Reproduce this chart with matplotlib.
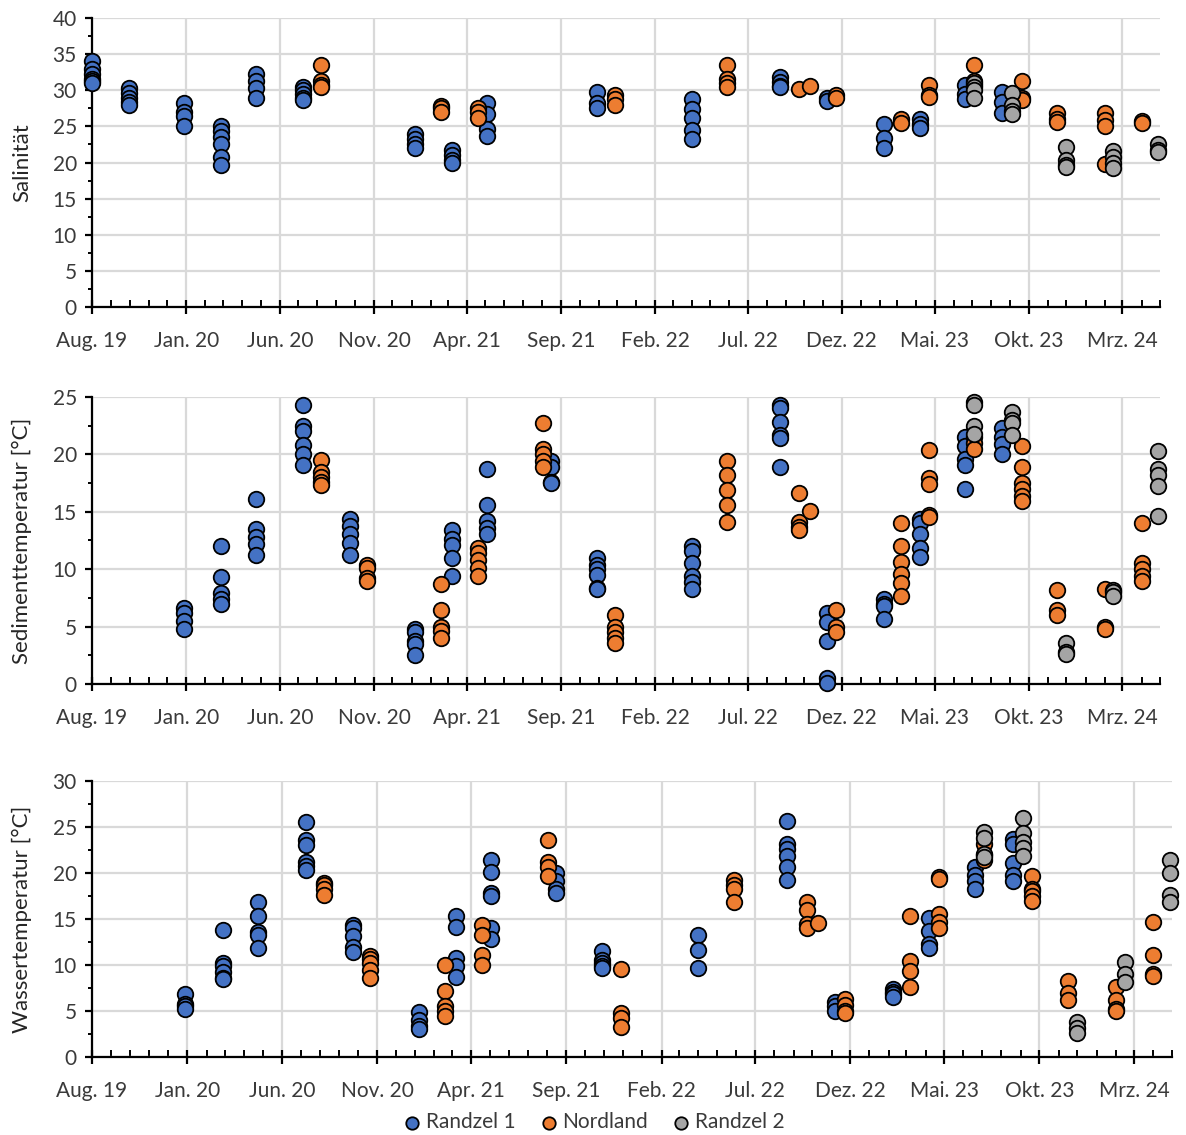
import matplotlib
matplotlib.use("Agg")
import matplotlib.pyplot as plt
import pandas as pd

plt.rcParams.update({
    "font.family": ["Lato", "DejaVu Sans"],
    "font.size": 15,
})

COLORS = {"Randzel 1": "#4472C4", "Nordland": "#ED7D31", "Randzel 2": "#A5A5A5"}

# x-axis
x_start, x_end = "2019-08-01", "2024-05-01"
tick_labels = ["Aug. 19", "Jan. 20", "Jun. 20", "Nov. 20", "Apr. 21", "Sep. 21",
               "Feb. 22", "Jul. 22", "Dez. 22", "Mai. 23", "Okt. 23", "Mrz. 24"]

# ---- Salinität ----
sal_r1_dates = ["2019-08-01", "2019-09-30", "2019-12-28", "2020-02-27", "2020-04-23",
                "2020-07-09", "2021-01-07", "2021-03-07", "2021-05-03", "2021-10-29",
                "2022-04-01", "2022-08-22", "2022-11-07", "2023-02-07", "2023-04-07",
                "2023-06-19", "2023-08-19"]
sal_r1_vals = [[34.1, 33.0, 32.3, 31.6, 31.3, 31.0], [30.3, 29.6, 29.0, 28.4, 28.0],
               [28.3, 27.0, 26.5, 25.0], [25.1, 24.3, 23.6, 22.6, 20.7, 19.6],
               [32.3, 31.3, 30.3, 29.0], [30.5, 30.0, 29.5, 29.0, 28.7],
               [23.9, 23.2, 22.5, 22.0], [21.8, 21.0, 20.4, 19.9],
               [28.2, 26.7, 24.6, 23.7], [29.8, 28.2, 27.5],
               [28.8, 27.4, 26.2, 24.5, 23.2], [31.8, 31.2, 30.6, 30.4],
               [29.0, 28.5], [25.4, 23.4, 22.0], [26.0, 25.4, 24.8],
               [30.8, 29.5, 28.8], [29.8, 28.4, 26.9]]
sal_nl_dates = ["2020-08-07", "2021-02-18", "2021-04-19", "2021-11-28", "2022-05-28",
                "2022-09-22", "2022-10-10", "2022-11-22", "2023-03-07", "2023-04-22",
                "2023-07-04", "2023-09-19", "2023-11-16", "2024-02-01", "2024-04-01"]
sal_nl_vals = [[33.5, 31.3, 30.7, 30.5], [27.8, 27.5, 27.0], [27.6, 27.0, 26.2],
               [29.3, 28.8, 27.9], [33.5, 31.6, 31.0, 30.4], [30.2], [30.6],
               [29.3, 29.0], [26.0, 25.5], [30.8, 29.4, 29.1], [33.5, 31.3, 30.8],
               [31.3, 29.0, 28.7], [26.8, 26.0, 25.6], [26.8, 25.9, 25.0, 19.8],
               [25.8, 25.5]]
sal_r2_dates = ["2023-07-04", "2023-09-04", "2023-12-01", "2024-02-15", "2024-04-28"]
sal_r2_vals = [[31.0, 30.5, 30.0, 29.0], [29.6, 27.9, 27.2, 26.7],
               [22.2, 20.3, 19.7, 19.4], [21.6, 20.8, 19.9, 19.3], [22.5, 21.8, 21.5]]

# ---- Sedimenttemperatur ----
sed_r1_dates = ["2019-12-28", "2020-02-27", "2020-04-23", "2020-07-09", "2020-09-23",
                "2021-01-07", "2021-03-07", "2021-05-03", "2021-08-16", "2021-10-29",
                "2022-04-01", "2022-08-22", "2022-11-07", "2023-02-07", "2023-04-07",
                "2023-06-19", "2023-08-19"]
sed_r1_vals = [[6.6, 6.2, 5.5, 4.8], [12.0, 9.3, 7.9, 7.4, 7.0],
               [16.1, 13.5, 12.8, 12.2, 11.2], [24.3, 22.5, 22.0, 20.8, 20.0, 19.1],
               [14.4, 13.8, 13.1, 12.3, 11.2], [4.8, 4.5, 3.7, 3.5, 2.5],
               [13.4, 12.6, 12.1, 11.0, 9.4], [18.7, 15.6, 14.2, 13.6, 13.1],
               [19.4, 18.9, 17.6, 17.5], [11.0, 10.4, 10.0, 9.5, 8.4, 8.3],
               [12.0, 11.6, 10.5, 9.4, 8.9, 8.3], [24.3, 24.0, 22.8, 21.7, 21.4, 18.9],
               [6.2, 5.4, 3.7, 0.5, 0.1], [7.4, 7.0, 6.8, 5.7],
               [14.4, 14.0, 13.1, 11.8, 11.1], [21.5, 20.7, 19.6, 19.1, 17.0],
               [22.3, 21.5, 20.9, 20.0]]
sed_nl_dates = ["2020-08-07", "2020-10-20", "2021-02-18", "2021-04-19", "2021-08-03",
                "2021-11-28", "2022-05-28", "2022-09-22", "2022-10-10", "2022-11-22",
                "2023-03-07", "2023-04-22", "2023-07-04", "2023-09-19", "2023-11-16",
                "2024-02-01", "2024-04-01"]
sed_nl_vals = [[19.5, 18.5, 18.0, 17.6, 17.3], [10.4, 10.1, 9.2, 9.0],
               [8.7, 6.4, 5.0, 4.6, 4.0], [11.8, 11.4, 10.8, 10.1, 9.4],
               [22.7, 20.5, 20.0, 19.4, 18.9], [6.0, 5.0, 4.5, 4.0, 3.6],
               [19.4, 18.2, 16.9, 15.6, 14.1], [16.6, 14.1, 13.7, 13.4], [15.1],
               [6.4, 5.0, 4.5], [14.0, 12.0, 10.6, 9.6, 8.8, 7.7],
               [20.4, 17.9, 17.4, 14.7, 14.5], [21.5, 21.0, 20.5],
               [20.7, 18.9, 17.5, 17.0, 16.4, 15.9], [8.2, 6.4, 6.0], [8.3, 5.0, 4.8],
               [14.0, 10.5, 10.0, 9.4, 9.0]]
sed_r2_dates = ["2023-07-04", "2023-09-04", "2023-12-01", "2024-02-15", "2024-04-28"]
sed_r2_vals = [[24.6, 24.3, 22.5, 21.8], [23.7, 23.0, 22.7, 21.7], [3.6, 2.8, 2.6],
               [8.2, 8.0, 7.7], [20.3, 18.7, 18.2, 17.2, 14.6]]

# ---- Wassertemperatur ----
wat_r1_dates = sed_r1_dates
wat_r1_vals = [[6.8, 5.8, 5.5, 5.2], [13.8, 10.2, 9.9, 9.2, 8.6, 8.5],
               [16.8, 15.3, 13.6, 13.3, 11.9], [25.5, 23.6, 23.0, 21.2, 20.8, 20.3],
               [14.4, 14.0, 13.1, 12.0, 11.4], [4.9, 4.0, 3.4, 3.1],
               [15.3, 14.1, 10.8, 9.9, 8.7], [21.4, 20.1, 17.8, 17.5, 14.0, 12.8],
               [20.0, 19.1, 18.3, 17.8], [11.5, 10.5, 10.2, 9.9, 9.7],
               [13.3, 11.6, 9.7], [25.7, 23.2, 22.6, 21.8, 20.6, 19.2],
               [6.0, 5.5, 5.0], [7.4, 7.1, 6.8, 6.5], [15.1, 13.7, 12.3, 11.8],
               [20.7, 19.8, 19.1, 18.3], [23.7, 23.2, 21.1, 19.8, 19.1]]
wat_nl_dates = sed_nl_dates
wat_nl_vals = [[18.9, 18.7, 18.3, 17.6], [11.0, 10.6, 10.2, 9.5, 8.6],
               [10.0, 7.2, 5.5, 5.0, 4.5], [14.3, 13.3, 11.1, 10.0],
               [23.6, 21.2, 20.7, 19.7], [9.6, 4.8, 4.2, 3.3],
               [19.2, 18.7, 18.3, 16.9], [16.8, 16.0, 14.5, 14.0], [14.6],
               [6.3, 5.6, 5.0, 4.8], [15.3, 10.4, 9.3, 7.6],
               [19.6, 19.3, 15.5, 14.7, 14.0], [23.2, 22.0, 21.4],
               [19.7, 18.3, 18.0, 17.5, 17.0], [8.3, 7.0, 6.2], [7.6, 6.2, 5.2, 5.0],
               [14.7, 11.1, 9.0, 8.8]]
wat_r2_dates = sed_r2_dates
wat_r2_vals = [[24.5, 23.8, 22.1, 21.7], [26.0, 24.4, 23.4, 22.7, 21.9],
               [3.8, 3.2, 2.6], [10.3, 9.0, 8.1], [21.4, 20.0, 17.6, 16.8]]

panels = [
    ("Salinität", 40, 5, [0.0776, 0.7295, 0.9005, 0.2546],
     [(sal_r1_dates, sal_r1_vals), (sal_nl_dates, sal_nl_vals), (sal_r2_dates, sal_r2_vals)]),
    ("Sedimenttemperatur [°C]", 25, 5, [0.0776, 0.3974, 0.9005, 0.2529],
     [(sed_r1_dates, sed_r1_vals), (sed_nl_dates, sed_nl_vals), (sed_r2_dates, sed_r2_vals)]),
    ("Wassertemperatur [°C]", 30, 5, [0.0776, 0.0687, 0.9106, 0.2432],
     [(wat_r1_dates, wat_r1_vals), (wat_nl_dates, wat_nl_vals), (wat_r2_dates, wat_r2_vals)]),
]


def flatten(dates, vals):
    xs, ys = [], []
    for d, vs in zip(dates, vals):
        xs += [pd.Timestamp(d)] * len(vs)
        ys += vs
    return xs, ys


major = pd.date_range(x_start, "2024-03-01", freq="5MS")
minor = pd.date_range(x_start, x_end, freq="MS")

fig = plt.figure(figsize=(11.86, 11.35), dpi=100)

for ylabel, ymax, ystep, rect, series in panels:
    ax = fig.add_axes(rect)
    for name, (dates, vals) in zip(COLORS, series):
        xs, ys = flatten(dates, vals)
        ax.scatter(xs, ys, s=125, color=COLORS[name], edgecolor="black",
                   linewidth=1.3, zorder=3, clip_on=False, label=name)

    ax.set_xlim(pd.Timestamp(x_start), pd.Timestamp(x_end))
    ax.set_ylim(0, ymax)
    ax.set_xticks(major)
    ax.set_xticklabels(tick_labels)
    ax.set_xticks(minor, minor=True)
    ax.set_yticks(range(0, ymax + 1, ystep))
    ax.set_yticks([v + ystep / 2 for v in range(0, ymax, ystep)], minor=True)

    ax.grid(True, which="major", color="#D9D9D9", linewidth=1.6, zorder=0)
    ax.set_axisbelow(True)
    for s in ["top", "right"]:
        ax.spines[s].set_visible(False)
    for s in ["left", "bottom"]:
        ax.spines[s].set_linewidth(1.6)
        ax.spines[s].set_zorder(2)

    ax.tick_params(axis="x", which="major", direction="inout", length=10, width=1.6,
                   pad=12, labelsize=15, colors="black", labelcolor="#3A3A3A")
    ax.tick_params(axis="x", which="minor", direction="in", length=5, width=1.4)
    ax.tick_params(axis="y", which="major", direction="out", length=5, width=1.6,
                   pad=6, labelsize=15, labelcolor="#3A3A3A")
    ax.tick_params(axis="y", which="minor", direction="out", length=3, width=1.4)

    ax.set_ylabel(ylabel, fontsize=16, color="#262626")
    ax.yaxis.set_label_coords(-0.056, 0.5)

handles, labels = ax.get_legend_handles_labels()
fig.legend(handles, labels, loc="center", bbox_to_anchor=(0.5, 1 - 1122 / 1135),
           ncol=3, frameon=False, fontsize=15, handletextpad=0.15, columnspacing=1.1,
           handlelength=1.0, markerscale=0.8, labelcolor="#3A3A3A")

fig.savefig("out.png", dpi=100)
